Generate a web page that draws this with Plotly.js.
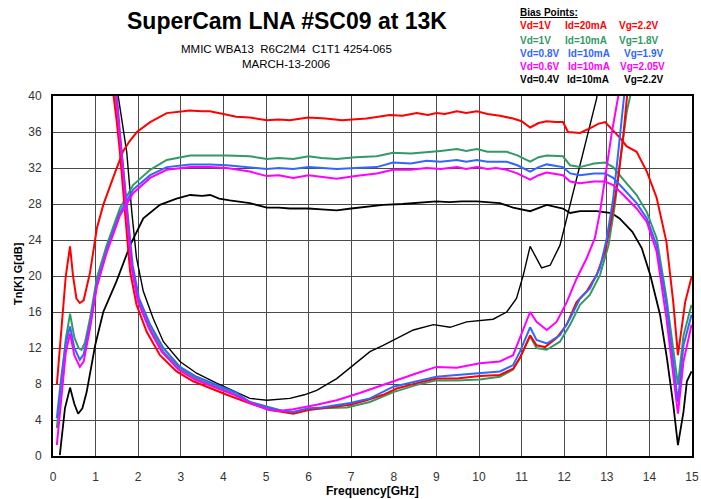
<!DOCTYPE html>
<html>
<head>
<meta charset="utf-8">
<script src="https://cdn.plot.ly/plotly-3.0.1.min.js"></script>
<style>html,body{margin:0;padding:0;background:#fff;}#chart{width:701px;height:499px;}</style>
</head>
<body>
<div id="chart"></div>
<script>
// ---- Gain curves G[dB] ----
const redGainX = [0.09,0.2,0.3,0.4,0.47,0.55,0.63,0.72,0.87,1.03,1.18,1.41,1.64,1.8,1.97,2.28,2.67,3.06,3.2,3.5,3.68,4.0,4.3,4.62,5.02,5.3,5.56,5.99,6.4,6.78,7.36,7.91,8.2,8.54,8.8,9.0,9.2,9.48,9.7,9.95,10.2,10.49,10.8,11.0,11.2,11.4,11.59,11.8,11.97,12.09,12.37,12.6,12.8,12.96,13.15,13.3,13.47,13.7,13.94,14.17,14.4,14.56,14.67,14.76,14.84,14.99];
const redGainY = [7.9,14,20,23.3,20,17.5,17,17.3,20.4,25.3,27.9,30.9,33.8,35,36,37.1,38.1,38.3,38.4,38.3,38.3,38.0,37.7,37.6,37.3,37.4,37.3,37.6,37.5,37.3,37.5,37.9,37.8,38.1,37.9,38.1,38.0,38.3,38.1,38.3,38.0,37.8,37.5,37.2,36.5,37.0,37.2,37.1,37.1,36.0,35.9,36.4,36.9,37.1,36.2,35.4,34.4,33.8,31.6,28.7,23.8,17.1,11.2,14.5,17.1,19.9];

const greenGainX = [0.09,0.2,0.3,0.4,0.5,0.6,0.67,0.75,0.87,1.03,1.26,1.57,1.88,2.28,2.67,3.22,3.69,4.08,4.62,5.02,5.3,5.64,6.0,6.3,6.66,7.1,7.6,7.98,8.4,8.77,9.1,9.48,9.7,9.95,10.2,10.4,10.65,10.9,11.2,11.4,11.59,11.97,12.14,12.37,12.7,12.96,13.15,13.39,13.7,13.94,14.17,14.4,14.56,14.67,14.8,14.99];
const greenGainY = [3.1,8,13,15.8,13.2,12,11.8,12.6,15.3,19.8,23.4,27.5,30.1,31.8,32.9,33.4,33.4,33.4,33.3,33.0,33.1,33.0,33.3,33.1,33.0,33.2,33.3,33.7,33.6,33.8,33.9,34.1,33.9,34.1,33.8,33.8,33.8,33.4,32.7,33.2,33.4,33.3,32.3,32.1,32.5,32.6,32.1,30.7,29.0,27.1,24.2,17.6,11.6,7.9,13.4,16.8];

const blueGainX = [0.09,0.2,0.3,0.4,0.5,0.63,0.72,0.87,1.03,1.26,1.57,1.88,2.28,2.67,3.22,3.69,4.08,4.62,5.02,5.3,5.64,6.0,6.3,6.66,7.1,7.6,7.98,8.4,8.77,9.1,9.48,9.7,9.95,10.2,10.4,10.65,10.9,11.2,11.4,11.59,11.97,12.14,12.37,12.7,12.96,13.15,13.39,13.7,13.94,14.17,14.4,14.56,14.67,14.8,14.99];
const blueGainY = [4.2,9,12.5,14.4,12,10.7,11.3,14.7,19.2,22.9,27,29.6,31.2,32.1,32.4,32.4,32.3,32.1,31.9,32.0,31.9,32.1,32.0,31.9,32.0,32.1,32.6,32.5,32.8,32.7,32.9,32.7,32.9,32.7,32.7,32.7,32.3,31.6,32.1,32.4,32.1,31.4,31.2,31.4,31.4,30.9,29.7,28.1,26.4,23.4,16.8,10.5,6.0,12.3,15.7];

const magentaGainX = [0.09,0.2,0.3,0.4,0.5,0.63,0.72,0.87,1.03,1.26,1.57,1.88,2.28,2.67,3.22,3.69,4.08,4.62,5.02,5.3,5.64,6.0,6.3,6.66,7.1,7.6,7.98,8.4,8.77,9.1,9.48,9.7,9.95,10.2,10.4,10.65,10.9,11.2,11.4,11.59,11.97,12.14,12.37,12.7,12.96,13.15,13.39,13.7,13.94,14.17,14.4,14.56,14.67,14.8,14.99];
const magentaGainY = [1.2,7,11.5,13.6,11.2,9.9,10.5,14.2,18.8,22.6,26.7,29.2,30.9,31.8,32.1,32.1,32.0,31.6,31.1,31.2,30.9,31.2,31.0,30.8,31.1,31.4,31.8,31.8,32.0,31.9,32.1,31.9,32.1,31.9,32.0,31.8,31.4,30.7,31.2,31.5,31.2,30.5,30.3,30.5,30.5,30.1,29.0,27.5,26.0,22.7,15.3,8.6,4.7,10.5,14.6];

const blackGainX = [0.16,0.28,0.4,0.5,0.59,0.69,0.79,0.99,1.18,1.49,1.81,2.12,2.51,2.9,3.22,3.5,3.69,3.9,4.15,4.62,5.02,5.3,5.56,6.0,6.3,6.66,7.0,7.36,7.75,8.2,8.54,8.8,9.0,9.3,9.6,9.95,10.2,10.49,10.8,11.2,11.59,11.97,12.14,12.37,12.76,13.11,13.3,13.6,13.82,14.02,14.25,14.41,14.56,14.67,14.8,14.88,14.99];
const blackGainY = [0.1,5.3,7.6,5.8,4.7,5.3,7.1,12.3,16.0,19.4,23.4,26.4,27.9,28.6,29.0,28.9,29.0,28.6,28.4,28.1,27.6,27.6,27.5,27.5,27.4,27.3,27.5,27.7,27.9,28.0,28.1,28.2,28.3,28.2,28.3,28.3,28.2,28.1,27.6,27.2,27.9,27.5,27.0,27.2,27.2,27.0,26.4,24.9,23.1,20.1,15.7,10.9,5.7,1.2,4.9,8.3,9.4];

// ---- Noise temperature curves Tn[K] ----
const redNoiseX = [1.3,1.42,1.5,1.57,1.69,1.81,1.96,2.2,2.51,2.9,3.29,3.69,4.08,4.62,5.09,5.4,5.64,6.0,6.3,6.97,7.36,7.75,8.07,8.54,9.0,9.48,10.02,10.49,10.8,10.96,11.2,11.35,11.55,11.82,12.06,12.29,12.53,12.76,12.96,13.11,13.27,13.39,13.47,13.55];
const redNoiseY = [50,40.1,37,33.8,27.1,20.5,16.8,13.8,11.2,9.4,8.3,7.5,6.8,5.85,5.1,4.9,4.7,5.1,5.3,5.7,6.2,6.8,7.5,8.1,8.6,8.6,8.9,9.0,9.7,10.9,13.4,12.3,12.1,13.1,14.6,17.1,18.3,20.1,22.7,26.4,30.9,35.7,39.7,45];

const greenNoiseX = [1.35,1.46,1.61,1.73,1.85,2.0,2.28,2.59,2.98,3.37,3.84,4.31,4.62,5.09,5.4,5.64,6.0,6.3,6.9,7.44,7.99,8.54,9.0,9.48,10.02,10.49,10.8,10.96,11.2,11.35,11.59,11.9,12.14,12.37,12.6,12.84,13.04,13.19,13.31,13.47,13.55,13.6];
const greenNoiseY = [50,40,33.8,27.1,21.2,17.5,14.2,11.6,9.7,8.6,7.7,6.8,6.0,5.4,5.0,4.9,5.2,5.3,5.4,6.0,7.1,7.9,8.4,8.4,8.5,8.8,9.6,10.9,13.3,12.0,11.8,12.7,14.6,16.8,17.9,20.1,23.4,27.9,32.7,38.3,40,45];

const blueNoiseX = [1.38,1.5,1.61,1.74,1.87,2.02,2.28,2.59,2.98,3.37,3.84,4.31,4.62,5.09,5.4,5.64,6.0,6.3,6.97,7.44,7.99,8.54,9.0,9.48,10.02,10.49,10.8,10.96,11.2,11.35,11.59,11.9,12.14,12.37,12.6,12.84,13.0,13.15,13.27,13.39,13.45];
const blueNoiseY = [50,40,33.8,27.1,21.2,17.5,14.6,12.0,9.9,8.8,7.9,7.0,6.0,5.3,5.0,4.9,5.3,5.4,5.9,6.4,7.7,8.3,8.8,9.0,9.2,9.4,10.1,11.6,14.3,12.9,12.5,13.4,15.3,17.5,18.6,20.9,24.2,28.6,33.8,39.0,42];

const magentaNoiseX = [1.36,1.48,1.6,1.72,1.84,1.99,2.25,2.55,2.95,3.33,3.8,4.25,4.62,5.02,5.3,5.64,6.19,6.66,7.2,7.75,8.15,8.54,9.0,9.48,10.02,10.49,10.8,10.96,11.2,11.35,11.59,11.82,12.06,12.29,12.53,12.72,12.84,12.96,13.11,13.27,13.35];
const magentaNoiseY = [50,40,33.8,27.1,21,17.2,14.2,11.6,9.6,8.5,7.6,6.8,5.9,5.2,5.0,5.2,5.7,6.2,7.0,7.9,8.6,9.2,9.9,9.8,10.3,10.5,11.2,13.1,16.0,14.9,14.0,14.9,17.1,19.7,22.0,24.2,27.1,30.9,35.7,40,45];

const blackNoiseX = [1.42,1.53,1.73,1.85,1.96,2.12,2.35,2.59,2.98,3.37,3.84,4.31,4.62,5.02,5.3,5.56,5.9,6.19,6.66,7.05,7.44,7.75,8.07,8.46,8.93,9.32,9.71,10.1,10.33,10.65,10.88,11.04,11.2,11.47,11.67,11.9,12.06,12.25,12.45,12.6,12.76,12.85];
const blackNoiseY = [50,40,33.8,27.1,22.0,18.3,15.3,12.7,10.5,9.2,8.1,7.1,6.4,6.2,6.3,6.4,6.8,7.3,8.6,10.1,11.6,12.3,13.1,14.0,14.6,14.3,14.9,15.1,15.2,16.0,17.5,20.1,23.3,20.9,21.2,23.4,26.4,30.1,33.8,36.8,39.7,43];

// ---- Labels ----
const xTicks = [0,1,2,3,4,5,6,7,8,9,10,11,12,13,14,15];
const yTicks = [0,4,8,12,16,20,24,28,32,36,40];
const biasVd = ["Vd=1V","Vd=1V","Vd=0.8V","Vd=0.6V","Vd=0.4V"];
const biasId = ["Id=20mA","Id=10mA","Id=10mA","Id=10mA","Id=10mA"];
const biasVg = ["Vg=2.2V","Vg=1.8V","Vg=1.9V","Vg=2.05V","Vg=2.2V"];
const seriesColors = ["#FF0000","#339966","#3366FF","#FF00FF","#000000"];

const RED = seriesColors[0], GREEN = seriesColors[1], BLUE = seriesColors[2], MAG = seriesColors[3], BLK = seriesColors[4];
function tr(x, y, c, w) {
  return {x: x, y: y, type: 'scatter', mode: 'lines', line: {color: c, width: w, shape: 'linear'}, hoverinfo: 'skip'};
}
const data = [
  tr(blackGainX, blackGainY, BLK, 1.8),
  tr(blackNoiseX, blackNoiseY, BLK, 1.4),
  tr(greenGainX, greenGainY, GREEN, 2),
  tr(greenNoiseX, greenNoiseY, GREEN, 2),
  tr(redGainX, redGainY, RED, 2),
  tr(redNoiseX, redNoiseY, RED, 2),
  tr(blueGainX, blueGainY, BLUE, 2),
  tr(blueNoiseX, blueNoiseY, BLUE, 2),
  tr(magentaGainX, magentaGainY, MAG, 2),
  tr(magentaNoiseX, magentaNoiseY, MAG, 2)
];

const W = 639, H = 360, L = 53, T = 96;
function px(xp) { return (xp - L) / W; }
function py(yp) { return (T + H - yp) / H; }

const ann = [];
ann.push({text: '<b>SuperCam LNA #SC09 at 13K</b>', x: px(287), y: py(21), xref: 'paper', yref: 'paper', xanchor: 'center', yanchor: 'middle', showarrow: false, font: {family: 'Liberation Sans, Arial', size: 23, color: '#000'}});
ann.push({text: 'MMIC WBA13  R6C2M4  C1T1 4254-065', x: px(286), y: py(49), xref: 'paper', yref: 'paper', xanchor: 'center', yanchor: 'middle', showarrow: false, font: {family: 'Liberation Sans, Arial', size: 11.5, color: '#000'}});
ann.push({text: 'MARCH-13-2006', x: px(286), y: py(64), xref: 'paper', yref: 'paper', xanchor: 'center', yanchor: 'middle', showarrow: false, font: {family: 'Liberation Sans, Arial', size: 11.5, color: '#000'}});
ann.push({text: '<b><u>Bias Points:</u></b>', x: px(518), y: py(13), xref: 'paper', yref: 'paper', xanchor: 'left', yanchor: 'middle', showarrow: false, font: {family: 'Liberation Sans, Arial', size: 10, color: '#000'}});
const rowY = [25.7, 40.7, 53.3, 66.7, 80];
const idX = [563, 563, 566, 566, 565];
const vgX = [617, 617, 622, 618, 622];
for (let i = 0; i < 5; i++) {
  const f = {family: 'Liberation Sans, Arial', size: 10, color: seriesColors[i]};
  ann.push({text: '<b>' + biasVd[i] + '</b>', x: px(518), y: py(rowY[i]), xref: 'paper', yref: 'paper', xanchor: 'left', yanchor: 'middle', showarrow: false, font: f});
  ann.push({text: '<b>' + biasId[i] + '</b>', x: px(idX[i]), y: py(rowY[i]), xref: 'paper', yref: 'paper', xanchor: 'left', yanchor: 'middle', showarrow: false, font: f});
  ann.push({text: '<b>' + biasVg[i] + '</b>', x: px(vgX[i]), y: py(rowY[i]), xref: 'paper', yref: 'paper', xanchor: 'left', yanchor: 'middle', showarrow: false, font: f});
}
ann.push({text: '<b>Frequency[GHz]</b>', x: px(372), y: py(491), xref: 'paper', yref: 'paper', xanchor: 'center', yanchor: 'middle', showarrow: false, font: {family: 'Liberation Sans, Arial', size: 12, color: '#000'}});
ann.push({text: '<b>Tn[K] G[dB]</b>', x: px(18), y: py(274), xref: 'paper', yref: 'paper', xanchor: 'center', yanchor: 'middle', textangle: -90, showarrow: false, font: {family: 'Liberation Sans, Arial', size: 11, color: '#000'}});

const layout = {
  width: 701, height: 499,
  margin: {l: 53, r: 9, t: 96, b: 43, pad: 0},
  paper_bgcolor: '#fff', plot_bgcolor: '#fff',
  showlegend: false,
  font: {family: 'Liberation Sans, Arial', size: 12, color: '#333'},
  xaxis: {
    range: [0, 15], tickvals: xTicks, ticktext: xTicks.map(String), showgrid: true, gridcolor: '#4a4a4a', gridwidth: 1,
    zeroline: false, showline: true, linecolor: '#000', linewidth: 2, mirror: true, ticks: '', ticklabelstandoff: 9,
    tickfont: {size: 12, color: '#333'}, fixedrange: true
  },
  yaxis: {
    range: [0, 40], tickvals: yTicks, ticktext: yTicks.map(String), showgrid: true, gridcolor: '#4a4a4a', gridwidth: 1,
    zeroline: false, showline: true, linecolor: '#000', linewidth: 2, mirror: true, ticks: '', ticklabelstandoff: 7,
    tickfont: {size: 12, color: '#333'}, fixedrange: true
  },
  annotations: ann
};
Plotly.newPlot('chart', data, layout, {staticPlot: true, displayModeBar: false});
</script>
</body>
</html>
